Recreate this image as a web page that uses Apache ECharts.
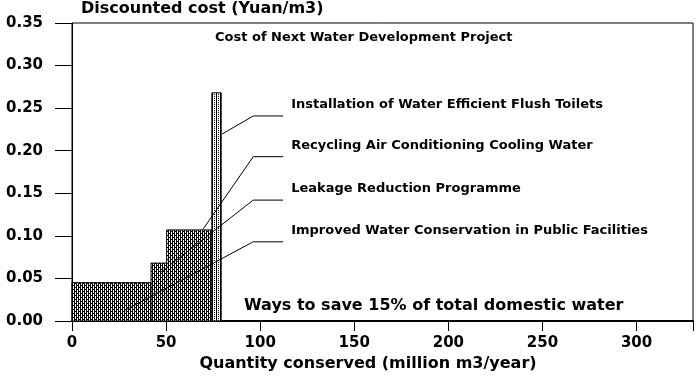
<!DOCTYPE html>
<html>
<head>
<meta charset="utf-8">
<script src="https://cdn.jsdelivr.net/npm/echarts@6/dist/echarts.min.js"></script>
<style>
  html, body { margin: 0; padding: 0; background: #fff; }
  #chart { width: 700px; height: 376px; }
</style>
</head>
<body>
<div id="chart"></div>
<script>
// steps of the cost curve (million m3/year, Yuan/m3)
const stepStart = [0, 42, 50.3, 74.3];
const stepEnd = [42, 50.3, 74.3, 79.3];
const stepCost = [0.045, 0.068, 0.107, 0.268];
const measures = [
    'Improved Water Conservation in Public Facilities',
    'Leakage Reduction Programme',
    'Recycling Air Conditioning Cooling Water',
    'Installation of Water Efficient Flush Toilets'
];
// leader lines: where they touch the bars and where their labels sit
const pointX = [28.2, 46.8, 69.7, 79.8];
const pointY = [0.0126, 0.0565, 0.108, 0.2196];
const labelY = [0.093, 0.142, 0.193, 0.2408];
const elbowX = 96.3;
const leaderEndX = 112.2;
const yTicks = [0, 0.05, 0.10, 0.15, 0.20, 0.25, 0.30, 0.35];

const FONT = 'DejaVu Sans';

function makeHatch(dense) {
    const c = document.createElement('canvas');
    c.width = 4;
    c.height = 4;
    const ctx = c.getContext('2d');
    ctx.fillStyle = '#fff';
    ctx.fillRect(0, 0, 4, 4);
    ctx.fillStyle = '#000';
    ctx.fillRect(0, 0, 1, 4);
    if (dense) {
        ctx.fillRect(2, 0, 1, 4);
        ctx.fillRect(1, 1, 1, 1);
        ctx.fillRect(3, 3, 1, 1);
    } else {
        ctx.fillRect(2, 0, 1, 1);
        ctx.fillRect(2, 2, 1, 1);
    }
    return c;
}
const densePattern = { image: makeHatch(true), repeat: 'repeat' };
const lightPattern = { image: makeHatch(false), repeat: 'repeat' };

const stepData = stepStart.map((s, i) => [s, stepEnd[i], stepCost[i]]);

const leaderSeries = measures.map((name, i) => ({
    name: name,
    type: 'line',
    silent: true,
    symbol: 'none',
    z: 5,
    lineStyle: { color: '#000', width: 1 },
    data: [[pointX[i], pointY[i]], [elbowX, labelY[i]], [leaderEndX, labelY[i]]],
    endLabel: {
        show: true,
        formatter: name,
        color: '#000',
        fontFamily: FONT,
        fontWeight: 'bold',
        fontSize: 13,
        distance: 8,
        offset: [0, -11]
    }
}));

const chart = echarts.init(document.getElementById('chart'));
const option = {
    animation: false,
    backgroundColor: '#fff',
    title: [
        {
            text: 'Cost of Next Water Development Project',
            left: 215,
            top: 31,
            textStyle: { fontFamily: FONT, fontWeight: 'bold', fontSize: 13, color: '#000' },
            padding: 0
        },
        {
            text: 'Ways to save 15% of total domestic water',
            left: 244,
            top: 298,
            textStyle: { fontFamily: FONT, fontWeight: 'bold', fontSize: 16, color: '#000' },
            padding: 0
        }
    ],
    grid: {
        left: 72,
        right: 7,
        top: 23,
        bottom: 55,
        outerBoundsMode: 'none',
        containLabel: false,
        show: true,
        borderColor: '#000',
        borderWidth: 1
    },
    xAxis: {
        type: 'value',
        min: 0,
        max: 330,
        interval: 50,
        splitLine: { show: false },
        axisLine: { lineStyle: { color: '#000', width: 2 } },
        axisTick: { show: true, length: 10, lineStyle: { color: '#000' } },
        axisLabel: {
            margin: 15,
            color: '#000',
            fontFamily: FONT,
            fontWeight: 'bold',
            fontSize: 15,
            formatter: v => (v % 50 === 0 ? String(v) : '')
        },
        name: 'Quantity conserved (million m3/year)',
        nameLocation: 'middle',
        nameGap: 29,
        nameTextStyle: {
            color: '#000',
            fontFamily: FONT,
            fontWeight: 'bold',
            fontSize: 16,
            padding: [0, 29, 0, 0]
        }
    },
    yAxis: {
        type: 'value',
        min: 0,
        max: 0.35,
        interval: 0.05,
        splitLine: { show: false },
        axisLine: { lineStyle: { color: '#000', width: 1 } },
        axisTick: { show: true, length: 17, lineStyle: { color: '#000' } },
        axisLabel: {
            margin: 29,
            color: '#000',
            fontFamily: FONT,
            fontWeight: 'bold',
            fontSize: 15,
            formatter: v => yTicks.reduce((a, t) => (Math.abs(t - v) < 1e-6 ? t.toFixed(2) : a), '')
        },
        name: 'Discounted cost (Yuan/m3)',
        nameLocation: 'end',
        nameGap: 14,
        nameTextStyle: {
            color: '#000',
            fontFamily: FONT,
            fontWeight: 'bold',
            fontSize: 16,
            align: 'left',
            verticalAlign: 'middle',
            padding: [0, 0, 0, 9]
        }
    },
    series: [
        {
            type: 'custom',
            z: 2,
            silent: true,
            data: stepData,
            encode: { x: [0, 1], y: 2 },
            renderItem: function (params, api) {
                const topLeft = api.coord([api.value(0), api.value(2)]);
                const bottomRight = api.coord([api.value(1), 0]);
                const tall = params.dataIndex === stepData.length - 1;
                return {
                    type: 'rect',
                    shape: {
                        x: topLeft[0],
                        y: topLeft[1],
                        width: bottomRight[0] - topLeft[0],
                        height: bottomRight[1] - topLeft[1]
                    },
                    style: {
                        fill: tall ? lightPattern : densePattern,
                        stroke: '#000',
                        lineWidth: 1
                    }
                };
            }
        }
    ].concat(leaderSeries)
};
chart.setOption(option);
window.addEventListener('resize', function () {
    chart.resize();
});
</script>
</body>
</html>
